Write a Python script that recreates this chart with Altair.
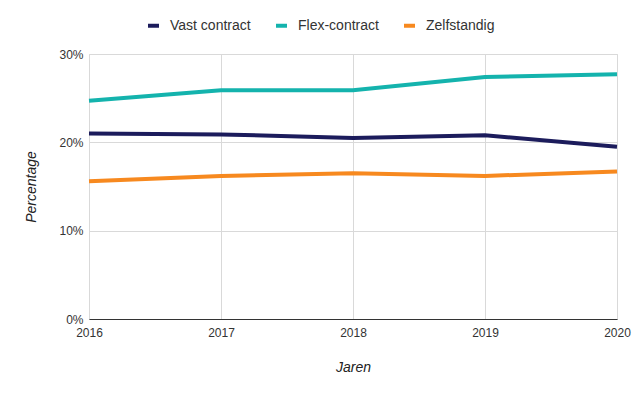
import altair as alt
import pandas as pd

years = [2016, 2017, 2018, 2019, 2020]
series_names = ["Vast contract", "Flex-contract", "Zelfstandig"]
vast = [0.210, 0.209, 0.205, 0.208, 0.195]
flex = [0.247, 0.259, 0.259, 0.274, 0.277]
zelf = [0.156, 0.162, 0.165, 0.162, 0.167]
colors = ["#1c1c5c", "#14b3ad", "#f7891f"]

rows = []
for name, vals in zip(series_names, [vast, flex, zelf]):
    for y, v in zip(years, vals):
        rows.append({"Jaar": y, "Waarde": v, "Serie": name})
df = pd.DataFrame(rows)

chart = alt.Chart(df).mark_line(strokeWidth=4).encode(
    x=alt.X("Jaar:Q",
            scale=alt.Scale(domain=[2016, 2020], nice=False, zero=False),
            axis=alt.Axis(values=years, format="d", title="Jaren", titleFontStyle="italic",
                          titleFontWeight="normal", titleFontSize=14, titleColor="#222",
                          titlePadding=22, labelFontSize=12, labelColor="#333",
                          labelFlush=False, ticks=False, labelPadding=8,
                          domainColor="#333", domainWidth=1,
                          gridColor="#d9d9d9", labelFont="Liberation Sans", titleFont="Liberation Sans")),
    y=alt.Y("Waarde:Q",
            scale=alt.Scale(domain=[0, 0.30], nice=False),
            axis=alt.Axis(values=[0, 0.1, 0.2, 0.3], format=".0%", title="Percentage",
                          titleFontStyle="italic", titleFontWeight="normal", titleFontSize=14,
                          titleColor="#222", titlePadding=20, labelFontSize=12, labelColor="#333",
                          ticks=False, labelPadding=6, domain=False, gridColor="#d9d9d9",
                          labelFont="Liberation Sans", titleFont="Liberation Sans")),
    color=alt.Color("Serie:N",
                    scale=alt.Scale(domain=series_names, range=colors),
                    sort=series_names,
                    legend=alt.Legend(title=None, orient="none", direction="horizontal",
                                      legendX=57, legendY=-36,
                                      symbolType="stroke", symbolSize=121,
                                      symbolStrokeWidth=4, labelFontSize=14, labelColor="#333",
                                      labelFont="Liberation Sans", columnPadding=17,
                                      symbolOffset=0, labelOffset=9)),
).properties(
    width=528, height=265,
    autosize=alt.AutoSizeParams(type="none"),
    padding={"left": 81, "top": 46, "right": 15, "bottom": 69},
).configure_view(stroke=None).configure(background="white")

chart.save("out.html", embed_options={"renderer": "svg", "actions": False})
